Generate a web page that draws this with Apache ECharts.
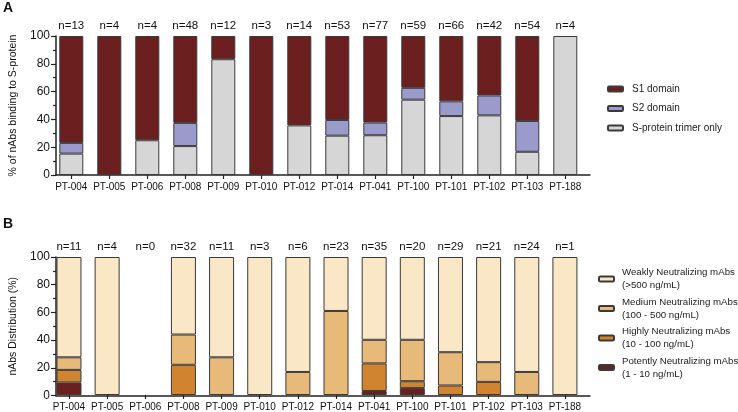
<!DOCTYPE html>
<html>
<head>
<meta charset="utf-8">
<script src="https://cdn.jsdelivr.net/npm/echarts@6/dist/echarts.min.js"></script>
<style>
html,body{margin:0;padding:0;background:#fff;}
#c{width:738px;height:412px;}
</style>
</head>
<body>
<div id="c"></div>
<script>
// ---------- DATA ----------
var categories = ['PT-004','PT-005','PT-006','PT-008','PT-009','PT-010','PT-012','PT-014','PT-041','PT-100','PT-101','PT-102','PT-103','PT-188'];

// Panel A (% of nAbs binding to S-protein)
var countsA = [13,4,4,48,12,3,14,53,77,59,66,42,54,4];
var trimerOnly = [15.4,0,25,20.8,83.3,0,35.7,28.3,28.6,54.2,42.4,42.9,16.7,100];
var s2Domain   = [7.7,0,0,16.7,0,0,0,11.3,9.1,8.5,10.6,14.3,22.2,0];
var s1Domain   = [76.9,100,75,62.5,16.7,100,64.3,60.4,62.3,37.3,47.0,42.8,61.1,0];
var namesA = ['S1 domain','S2 domain','S-protein trimer only'];

// Panel B (nAbs Distribution %)
var countsB = [11,4,0,32,11,3,6,23,35,20,29,21,24,1];
var potently = [9.1,0,0,0,0,0,0,0,2.9,5,0,0,0,0];
var highly   = [9.1,0,0,21.9,0,0,0,0,20,5,6.9,9.5,0,0];
var medium   = [9.1,0,0,21.9,27.3,0,16.7,60.9,17.1,30,24.1,14.3,16.7,0];
var weakly   = [72.7,100,0,56.2,72.7,100,83.3,39.1,60,60,69,76.2,83.3,100];
var namesB = ['Weakly Neutralizing mAbs\n(>500 ng/mL)','Medium Neutralizing mAbs\n(100 - 500 ng/mL)','Highly Neutralizing mAbs\n(10 - 100 ng/mL)','Potently Neutralizing mAbs\n(1 - 10 ng/mL)'];

var yTicks = [0,20,40,60,80,100];

// ---------- CHART ----------
var FONT = 'Liberation Sans, Arial, sans-serif';
function vals(arr){ return arr.map(function(v){ return v === 0 ? '-' : v; }); }
var YMIN = yTicks[0], YMAX = yTicks[yTicks.length-1], YINT = yTicks[1]-yTicks[0];

var chart = echarts.init(document.getElementById('c'), null, {renderer:'canvas'});

function xFrame(gi){
  return {
    type:'value', gridIndex:gi, min:0, max:1, position:'bottom',
    axisLine:{show:true, onZero:false, lineStyle:{color:'#222', width:1.5}},
    axisTick:{show:false}, axisLabel:{show:false}, splitLine:{show:false}
  };
}
function yFrame(gi, title){
  return {
    type:'value', gridIndex:gi, min:YMIN, max:YMAX, interval:YINT,
    name:title, nameLocation:'middle', nameGap:37, nameRotate:90,
    nameTextStyle:{fontSize:10.5, color:'#111', fontFamily:FONT},
    axisLine:{show:true, onZero:false, lineStyle:{color:'#222', width:1.5}},
    axisTick:{show:true, length:5, lineStyle:{color:'#222', width:1.2}},
    minorTick:{show:true, splitNumber:2, length:3, lineStyle:{color:'#222', width:1.2}},
    axisLabel:{fontSize:12, color:'#111', margin:6, fontFamily:FONT},
    splitLine:{show:false}
  };
}
function xCat(gi){
  return {
    type:'category', gridIndex:gi, data:categories, position:'bottom',
    axisLine:{show:false, onZero:false},
    axisTick:{show:true, alignWithLabel:true, length:4, lineStyle:{color:'#222', width:1.2}},
    axisLabel:{margin:7, fontSize:10, color:'#111', fontFamily:FONT, interval:0},
    splitLine:{show:false}
  };
}
function xCatTop(gi, counts){
  return {
    type:'category', gridIndex:gi, data:categories, position:'top',
    axisLine:{show:false}, axisTick:{show:false},
    axisLabel:{margin:4, fontSize:11.5, color:'#111', fontFamily:FONT, interval:0,
      formatter:function(v, i){ return 'n=' + counts[i]; }},
    splitLine:{show:false}
  };
}
function yHidden(gi){
  return {type:'value', gridIndex:gi, min:YMIN, max:YMAX, show:false, splitLine:{show:false}};
}
function bar(name, arr, color, xi, yi, stack, w){
  return {
    type:'bar', name:name, xAxisIndex:xi, yAxisIndex:yi, stack:stack, barWidth:w,
    data:vals(arr),
    itemStyle:{color:color, borderColor:'#3a3a3a', borderWidth:1},
    emphasis:{disabled:true}
  };
}

var option = {
  animation:false,
  textStyle:{fontFamily:FONT},
  graphic:[
    {type:'text', left:3, top:1, style:{text:'A', font:'bold 14px '+FONT, fill:'#111'}},
    {type:'text', left:3, top:217, style:{text:'B', font:'bold 14px '+FONT, fill:'#111'}}
  ],
  grid:[
    {left:45, right:148, top:36, height:139},
    {left:52.3, right:153.7, top:36, height:139},
    {left:43.5, right:148, top:257, height:138.5},
    {left:49.9, right:154, top:257, height:138.5}
  ],
  xAxis:[
    xFrame(0), xCat(1), xCatTop(1, countsA),
    xFrame(2), xCat(3), xCatTop(3, countsB)
  ],
  yAxis:[
    yFrame(0, '% of nAbs binding to S-protein'), yHidden(1),
    yFrame(2, 'nAbs Distribution (%)'), yHidden(3)
  ],
  legend:[
    {data:namesA, orient:'vertical', left:607, top:83, padding:0, itemWidth:15, itemHeight:5, itemGap:7.5,
      textStyle:{fontSize:10, color:'#222', fontFamily:FONT, lineHeight:12, padding:[0,0,0,4]}, selectedMode:false},
    {data:namesB, orient:'vertical', left:598, top:266, padding:0, itemWidth:15, itemHeight:5, itemGap:3.5,
      textStyle:{fontSize:9.7, color:'#222', fontFamily:FONT, lineHeight:13, padding:[0,0,0,3]}, selectedMode:false}
  ],
  series:[
    bar(namesA[2], trimerOnly, '#D6D6D6', 1, 1, 'A', 24),
    bar(namesA[1], s2Domain, '#9A9BCB', 1, 1, 'A', 24),
    bar(namesA[0], s1Domain, '#6C1F1F', 1, 1, 'A', 24),
    bar(namesB[3], potently, '#6C1F1F', 4, 3, 'B', 25),
    bar(namesB[2], highly, '#D1842F', 4, 3, 'B', 25),
    bar(namesB[1], medium, '#E8BA7A', 4, 3, 'B', 25),
    bar(namesB[0], weakly, '#F9E7C6', 4, 3, 'B', 25)
  ]
};
chart.setOption(option);
</script>
</body>
</html>
